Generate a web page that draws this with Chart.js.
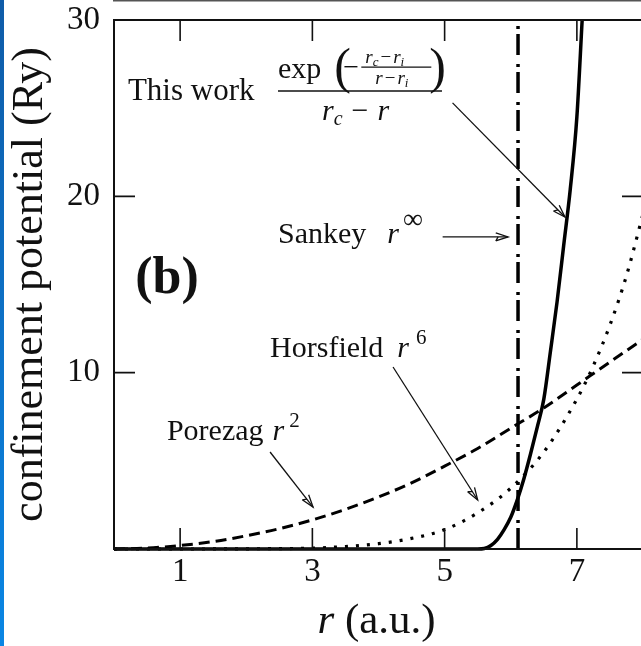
<!DOCTYPE html>
<html>
<head>
<meta charset="utf-8">
<script src="https://cdn.jsdelivr.net/npm/chart.js@4.4.0/dist/chart.umd.min.js"></script>
<style>
  html, body { margin: 0; padding: 0; background: #fff; overflow: hidden; }
  #wrap { position: relative; width: 641px; height: 646px; overflow: hidden; }
  #potChart { position: absolute; left: 0; top: 0; }
  #strip { position: absolute; left: 0; top: 0; width: 4px; height: 646px;
           background: linear-gradient(#0f5ca8, #0a86e4); }
</style>
</head>
<body>
<div id="wrap">
  <canvas id="potChart" width="660" height="646"></canvas>
  <div id="strip"></div>
</div>
<script>
// r in a.u., potentials in Ry
const rThisWork = [0, 1, 2, 3, 4, 5, 5.5, 5.6, 5.7, 5.8, 5.9, 6.0, 6.1, 6.2, 6.3, 6.4, 6.5, 6.6, 6.7, 6.8, 6.9, 7.0, 7.08];
const vThisWork = [0, 0, 0, 0, 0, 0, 0, 0.03, 0.2, 0.55, 1.1, 1.8, 2.8, 4.0, 5.4, 6.9, 8.5, 11.2, 14.0, 17.2, 20.4, 24.5, 30];

const rPorezag = [0, 0.5, 1, 1.5, 2, 2.5, 3, 3.5, 4, 4.5, 5, 5.5, 6, 6.5, 7, 7.5, 8];
const vPorezag = [0, 0.05, 0.2, 0.42, 0.75, 1.15, 1.65, 2.25, 2.95, 3.75, 4.7, 5.7, 6.85, 8.0, 9.3, 10.6, 11.9];

const rHorsfield = [0, 1, 2, 3, 3.5, 4, 4.5, 5, 5.5, 6, 6.5, 7, 7.25, 7.5, 7.75, 8];
const vHorsfield = [0, 0, 0.01, 0.05, 0.14, 0.3, 0.6, 1.1, 2.05, 3.45, 5.5, 8.5, 10.4, 12.7, 15.5, 19.0];

// Sankey: hard wall at r_c
const rSankey = [6.11, 6.11];
const vSankey = [0, 30];

const xTickVals = [1, 3, 5, 7];
const yTickVals = [10, 20, 30];

const serif = '"Liberation Serif", "Times New Roman", serif';
const ink = '#111';

function pts(xs, ys) {
    return xs.map((x, i) => ({x: x, y: ys[i]}));
}

function put(ctx, text, x, y, size, style) {
    ctx.font = (style || '') + ' ' + size + 'px ' + serif;
    ctx.fillText(text, x, y);
    return x + ctx.measureText(text).width;
}

function arrow(ctx, x1, y1, x2, y2) {
    const a = Math.atan2(y2 - y1, x2 - x1);
    const len = 13, spread = 0.32;
    ctx.beginPath();
    ctx.moveTo(x1, y1);
    ctx.lineTo(x2, y2);
    ctx.stroke();
    ctx.beginPath();
    ctx.moveTo(x2 - len * Math.cos(a - spread), y2 - len * Math.sin(a - spread));
    ctx.lineTo(x2, y2);
    ctx.lineTo(x2 - len * Math.cos(a + spread), y2 - len * Math.sin(a + spread));
    ctx.moveTo(x2 - 10 * Math.cos(a), y2 - 10 * Math.sin(a));
    ctx.lineTo(x2 - len * Math.cos(a - spread), y2 - len * Math.sin(a - spread));
    ctx.stroke();
}

// frame, inward ticks and the text notes
const notes = {
    id: 'notes',
    afterDraw(chart) {
        const ctx = chart.ctx;
        const xs = chart.scales.x, ys = chart.scales.y;
        const a = chart.chartArea;
        const px = v => xs.getPixelForValue(v);
        const py = v => ys.getPixelForValue(v);
        ctx.save();
        ctx.strokeStyle = ink;
        ctx.fillStyle = ink;

        // edge of the panel above
        ctx.strokeStyle = '#555';
        ctx.lineWidth = 1.6;
        ctx.beginPath();
        ctx.moveTo(a.left - 1, 0.8);
        ctx.lineTo(chart.width, 0.8);
        ctx.stroke();

        ctx.strokeStyle = ink;
        ctx.lineWidth = 2;
        ctx.strokeRect(a.left, a.top, a.right - a.left, a.bottom - a.top);

        ctx.lineWidth = 1.6;
        const tl = 21;
        ctx.beginPath();
        xTickVals.forEach(v => {
            const x = px(v);
            ctx.moveTo(x, a.bottom); ctx.lineTo(x, a.bottom - tl);
            ctx.moveTo(x, a.top); ctx.lineTo(x, a.top + tl);
        });
        yTickVals.forEach(v => {
            const y = py(v);
            ctx.moveTo(a.left, y); ctx.lineTo(a.left + tl, y);
            ctx.moveTo(a.right, y); ctx.lineTo(a.right - tl, y);
        });
        ctx.stroke();

        ctx.textBaseline = 'alphabetic';
        ctx.textAlign = 'left';

        // x axis title
        ctx.font = 'italic 43px ' + serif;
        const wr = ctx.measureText('r').width;
        ctx.font = '43px ' + serif;
        const wu = ctx.measureText(' (a.u.)').width;
        let tx = px(4) - 2 - (wr + wu) / 2;
        tx = put(ctx, 'r', tx, 633, 43, 'italic');
        put(ctx, ' (a.u.)', tx, 633, 43);

        // (b)
        put(ctx, '(b)', px(0.32), py(14.5), 52, 'bold');

        // This work + formula
        put(ctx, 'This work', px(0.21), py(25.46), 31);
        const fx0 = px(2.48), fx1 = px(4.96), fy = py(25.97);
        ctx.lineWidth = 1.6;
        ctx.beginPath();
        ctx.moveTo(fx0, fy); ctx.lineTo(fx1, fy);
        ctx.stroke();
        let nx = put(ctx, 'exp', fx0, fy - 13, 30);
        put(ctx, '(', nx + 13, fy - 8, 50);
        put(ctx, '\u2212', nx + 22, fy - 15, 28);
        // small fraction inside the brackets
        const sx0 = nx + 40, sx1 = nx + 110, sy = fy - 24;
        ctx.lineWidth = 1.2;
        ctx.beginPath();
        ctx.moveTo(sx0, sy); ctx.lineTo(sx1, sy);
        ctx.stroke();
        let q = sx0 + 4;
        q = put(ctx, 'r', q, sy - 4, 19, 'italic');
        q = put(ctx, 'c', q, sy - 1, 13, 'italic');
        q = put(ctx, '\u2212', q + 2, sy - 4, 19);
        q = put(ctx, 'r', q + 2, sy - 4, 19, 'italic');
        put(ctx, 'i', q, sy - 1, 13, 'italic');
        q = sx0 + 14;
        q = put(ctx, 'r', q, sy + 17, 19, 'italic');
        q = put(ctx, '\u2212', q + 2, sy + 17, 19);
        q = put(ctx, 'r', q + 2, sy + 17, 19, 'italic');
        put(ctx, 'i', q, sy + 20, 13, 'italic');
        put(ctx, ')', sx1 - 2, fy - 8, 50);
        // denominator r_c - r
        let d = fx0 + 44;
        d = put(ctx, 'r', d, fy + 29, 30, 'italic');
        d = put(ctx, 'c', d, fy + 34, 20, 'italic');
        d = put(ctx, '\u2212', d + 9, fy + 29, 30);
        put(ctx, 'r', d + 9, fy + 29, 30, 'italic');
        ctx.lineWidth = 1.3;
        arrow(ctx, px(5.12), py(25.3), px(6.82), py(18.83));

        // Sankey
        let s = put(ctx, 'Sankey', px(2.48), py(17.35), 30);
        s = put(ctx, 'r', s + 21, py(17.35), 30, 'italic');
        put(ctx, '\u221e', s + 4, py(17.35) - 15, 28);
        arrow(ctx, px(4.97), py(17.7), px(5.96), py(17.7));

        // Horsfield
        let h = put(ctx, 'Horsfield', px(2.36), py(10.9), 30);
        h = put(ctx, 'r', h + 14, py(10.9), 30, 'italic');
        put(ctx, '6', h + 7, py(10.9) - 13, 21);
        arrow(ctx, px(4.22), py(10.32), px(5.50), py(2.78));

        // Porezag
        let p = put(ctx, 'Porezag', px(0.80), py(6.18), 30);
        p = put(ctx, 'r', p + 9, py(6.18), 30, 'italic');
        put(ctx, '2', p + 5, py(6.18) - 13, 21);
        arrow(ctx, px(2.36), py(5.5), px(3.01), py(2.38));

        ctx.restore();
    }
};

const ctx = document.getElementById('potChart');
new Chart(ctx, {
    type: 'scatter',
    data: {
        datasets: [{
            label: 'This work',
            data: pts(rThisWork, vThisWork),
            showLine: true,
            borderColor: '#000',
            borderWidth: 3.5,
            pointRadius: 0,
            cubicInterpolationMode: 'monotone',
            clip: 3
        }, {
            label: 'Porezag',
            data: pts(rPorezag, vPorezag),
            showLine: true,
            borderColor: '#000',
            borderWidth: 3,
            borderDash: [11, 6],
            pointRadius: 0,
            cubicInterpolationMode: 'monotone',
            clip: 3
        }, {
            label: 'Horsfield',
            data: pts(rHorsfield, vHorsfield),
            showLine: true,
            borderColor: '#000',
            borderWidth: 3.2,
            borderDash: [3, 8],
            pointRadius: 0,
            cubicInterpolationMode: 'monotone',
            clip: 3
        }, {
            label: 'Sankey',
            data: pts(rSankey, vSankey),
            showLine: true,
            borderColor: '#000',
            borderWidth: 3.5,
            borderDash: [21, 5, 3, 9],
            pointRadius: 0,
            tension: 0
        }]
    },
    options: {
        responsive: false,
        animation: false,
        devicePixelRatio: 1,
        layout: { padding: { left: 0, top: 20, right: 17, bottom: 0 } },
        plugins: {
            legend: { display: false },
            tooltip: { enabled: false }
        },
        scales: {
            x: {
                type: 'linear',
                min: 0,
                max: 8,
                grid: { display: false, drawTicks: false },
                border: { display: false },
                afterBuildTicks: s => { s.ticks = xTickVals.map(v => ({value: v})); },
                afterFit: s => { s.height = 97; s.paddingLeft = 0; s.paddingRight = 0; },
                ticks: {
                    autoSkip: false,
                    maxRotation: 0,
                    padding: 4,
                    color: ink,
                    font: { family: serif, size: 33 }
                }
            },
            y: {
                min: 0,
                max: 30,
                grid: { display: false, drawTicks: false },
                border: { display: false },
                afterBuildTicks: s => { s.ticks = yTickVals.map(v => ({value: v})); },
                afterFit: s => { s.width = 114; s.paddingTop = 0; s.paddingBottom = 0; },
                ticks: {
                    padding: 14,
                    color: ink,
                    font: { family: serif, size: 33 }
                },
                title: {
                    display: true,
                    text: 'confinement potential (Ry)',
                    color: ink,
                    font: { family: serif, size: 44 },
                    padding: { top: 4, bottom: 0 }
                }
            }
        }
    },
    plugins: [notes]
});
</script>
</body>
</html>
